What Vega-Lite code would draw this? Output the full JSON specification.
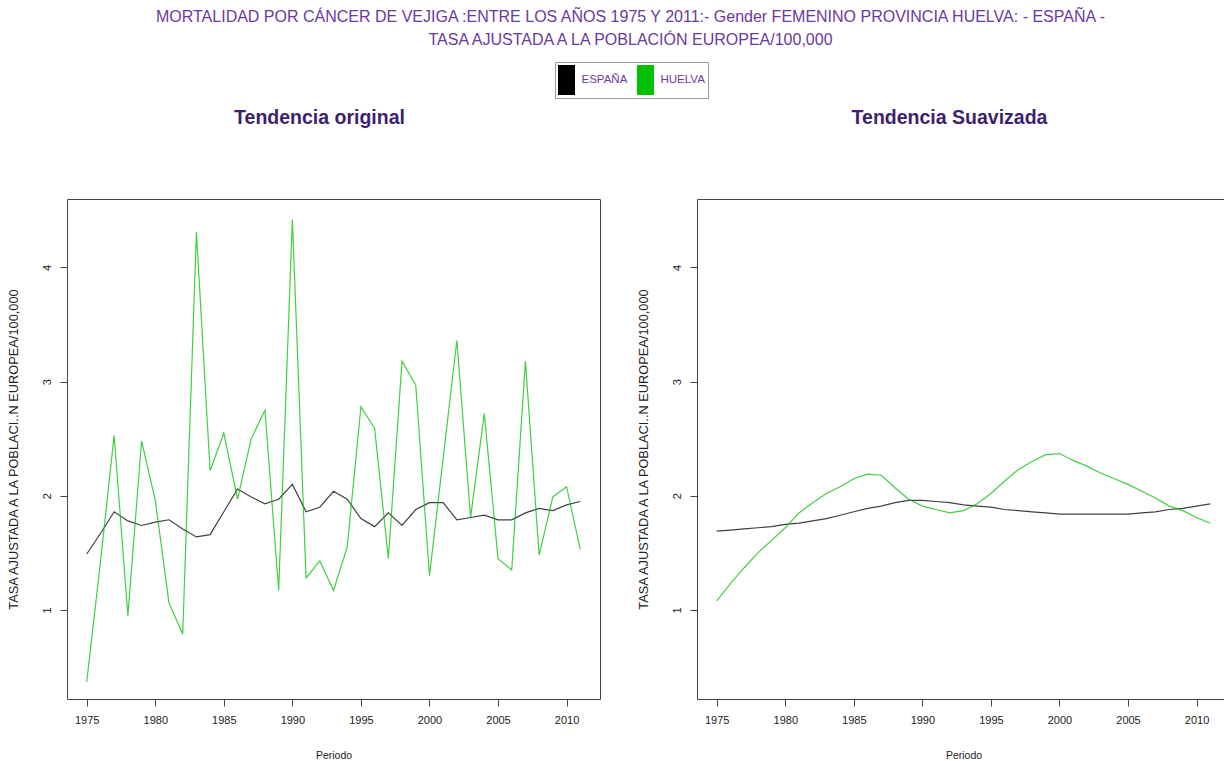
{
  "$schema": "https://vega.github.io/schema/vega-lite/v6.json",
  "background": "white",
  "padding": {"left": 6, "top": 8, "right": 0, "bottom": 0},
  "title": {
    "text": ["MORTALIDAD POR CÁNCER DE VEJIGA :ENTRE LOS AÑOS 1975 Y 2011:- Gender FEMENINO PROVINCIA HUELVA: - ESPAÑA -", "TASA AJUSTADA A LA POBLACIÓN EUROPEA/100,000"],
    "anchor": "middle",
    "font": "Liberation Sans",
    "fontSize": 16,
    "fontWeight": "normal",
    "color": "#6a3aa0",
    "lineHeight": 23,
    "offset": 14,
    "dx": 12
  },
  "bounds": "flush",
  "spacing": 97,
  "datasets": {
    "orig": [
      {"year": 1975, "value": 1.49, "series": "ESPAÑA"},
      {"year": 1976, "value": 1.67, "series": "ESPAÑA"},
      {"year": 1977, "value": 1.86, "series": "ESPAÑA"},
      {"year": 1978, "value": 1.78, "series": "ESPAÑA"},
      {"year": 1979, "value": 1.74, "series": "ESPAÑA"},
      {"year": 1980, "value": 1.77, "series": "ESPAÑA"},
      {"year": 1981, "value": 1.79, "series": "ESPAÑA"},
      {"year": 1982, "value": 1.71, "series": "ESPAÑA"},
      {"year": 1983, "value": 1.64, "series": "ESPAÑA"},
      {"year": 1984, "value": 1.66, "series": "ESPAÑA"},
      {"year": 1985, "value": 1.86, "series": "ESPAÑA"},
      {"year": 1986, "value": 2.06, "series": "ESPAÑA"},
      {"year": 1987, "value": 1.99, "series": "ESPAÑA"},
      {"year": 1988, "value": 1.93, "series": "ESPAÑA"},
      {"year": 1989, "value": 1.97, "series": "ESPAÑA"},
      {"year": 1990, "value": 2.10, "series": "ESPAÑA"},
      {"year": 1991, "value": 1.86, "series": "ESPAÑA"},
      {"year": 1992, "value": 1.90, "series": "ESPAÑA"},
      {"year": 1993, "value": 2.04, "series": "ESPAÑA"},
      {"year": 1994, "value": 1.97, "series": "ESPAÑA"},
      {"year": 1995, "value": 1.80, "series": "ESPAÑA"},
      {"year": 1996, "value": 1.73, "series": "ESPAÑA"},
      {"year": 1997, "value": 1.85, "series": "ESPAÑA"},
      {"year": 1998, "value": 1.74, "series": "ESPAÑA"},
      {"year": 1999, "value": 1.88, "series": "ESPAÑA"},
      {"year": 2000, "value": 1.94, "series": "ESPAÑA"},
      {"year": 2001, "value": 1.94, "series": "ESPAÑA"},
      {"year": 2002, "value": 1.79, "series": "ESPAÑA"},
      {"year": 2003, "value": 1.81, "series": "ESPAÑA"},
      {"year": 2004, "value": 1.83, "series": "ESPAÑA"},
      {"year": 2005, "value": 1.79, "series": "ESPAÑA"},
      {"year": 2006, "value": 1.79, "series": "ESPAÑA"},
      {"year": 2007, "value": 1.85, "series": "ESPAÑA"},
      {"year": 2008, "value": 1.89, "series": "ESPAÑA"},
      {"year": 2009, "value": 1.87, "series": "ESPAÑA"},
      {"year": 2010, "value": 1.92, "series": "ESPAÑA"},
      {"year": 2011, "value": 1.95, "series": "ESPAÑA"},
      {"year": 1975, "value": 0.37, "series": "HUELVA"},
      {"year": 1976, "value": 1.42, "series": "HUELVA"},
      {"year": 1977, "value": 2.53, "series": "HUELVA"},
      {"year": 1978, "value": 0.95, "series": "HUELVA"},
      {"year": 1979, "value": 2.48, "series": "HUELVA"},
      {"year": 1980, "value": 1.96, "series": "HUELVA"},
      {"year": 1981, "value": 1.06, "series": "HUELVA"},
      {"year": 1982, "value": 0.79, "series": "HUELVA"},
      {"year": 1983, "value": 4.31, "series": "HUELVA"},
      {"year": 1984, "value": 2.22, "series": "HUELVA"},
      {"year": 1985, "value": 2.55, "series": "HUELVA"},
      {"year": 1986, "value": 1.97, "series": "HUELVA"},
      {"year": 1987, "value": 2.50, "series": "HUELVA"},
      {"year": 1988, "value": 2.75, "series": "HUELVA"},
      {"year": 1989, "value": 1.17, "series": "HUELVA"},
      {"year": 1990, "value": 4.42, "series": "HUELVA"},
      {"year": 1991, "value": 1.28, "series": "HUELVA"},
      {"year": 1992, "value": 1.43, "series": "HUELVA"},
      {"year": 1993, "value": 1.17, "series": "HUELVA"},
      {"year": 1994, "value": 1.55, "series": "HUELVA"},
      {"year": 1995, "value": 2.78, "series": "HUELVA"},
      {"year": 1996, "value": 2.59, "series": "HUELVA"},
      {"year": 1997, "value": 1.45, "series": "HUELVA"},
      {"year": 1998, "value": 3.18, "series": "HUELVA"},
      {"year": 1999, "value": 2.97, "series": "HUELVA"},
      {"year": 2000, "value": 1.30, "series": "HUELVA"},
      {"year": 2001, "value": 2.33, "series": "HUELVA"},
      {"year": 2002, "value": 3.36, "series": "HUELVA"},
      {"year": 2003, "value": 1.81, "series": "HUELVA"},
      {"year": 2004, "value": 2.72, "series": "HUELVA"},
      {"year": 2005, "value": 1.45, "series": "HUELVA"},
      {"year": 2006, "value": 1.35, "series": "HUELVA"},
      {"year": 2007, "value": 3.18, "series": "HUELVA"},
      {"year": 2008, "value": 1.48, "series": "HUELVA"},
      {"year": 2009, "value": 1.99, "series": "HUELVA"},
      {"year": 2010, "value": 2.08, "series": "HUELVA"},
      {"year": 2011, "value": 1.53, "series": "HUELVA"}
    ],
    "suav": [
      {"year": 1975, "value": 1.69, "series": "ESPAÑA"},
      {"year": 1976, "value": 1.70, "series": "ESPAÑA"},
      {"year": 1977, "value": 1.71, "series": "ESPAÑA"},
      {"year": 1978, "value": 1.72, "series": "ESPAÑA"},
      {"year": 1979, "value": 1.73, "series": "ESPAÑA"},
      {"year": 1980, "value": 1.75, "series": "ESPAÑA"},
      {"year": 1981, "value": 1.76, "series": "ESPAÑA"},
      {"year": 1982, "value": 1.78, "series": "ESPAÑA"},
      {"year": 1983, "value": 1.80, "series": "ESPAÑA"},
      {"year": 1984, "value": 1.83, "series": "ESPAÑA"},
      {"year": 1985, "value": 1.86, "series": "ESPAÑA"},
      {"year": 1986, "value": 1.89, "series": "ESPAÑA"},
      {"year": 1987, "value": 1.91, "series": "ESPAÑA"},
      {"year": 1988, "value": 1.94, "series": "ESPAÑA"},
      {"year": 1989, "value": 1.96, "series": "ESPAÑA"},
      {"year": 1990, "value": 1.96, "series": "ESPAÑA"},
      {"year": 1991, "value": 1.95, "series": "ESPAÑA"},
      {"year": 1992, "value": 1.94, "series": "ESPAÑA"},
      {"year": 1993, "value": 1.92, "series": "ESPAÑA"},
      {"year": 1994, "value": 1.91, "series": "ESPAÑA"},
      {"year": 1995, "value": 1.90, "series": "ESPAÑA"},
      {"year": 1996, "value": 1.88, "series": "ESPAÑA"},
      {"year": 1997, "value": 1.87, "series": "ESPAÑA"},
      {"year": 1998, "value": 1.86, "series": "ESPAÑA"},
      {"year": 1999, "value": 1.85, "series": "ESPAÑA"},
      {"year": 2000, "value": 1.84, "series": "ESPAÑA"},
      {"year": 2001, "value": 1.84, "series": "ESPAÑA"},
      {"year": 2002, "value": 1.84, "series": "ESPAÑA"},
      {"year": 2003, "value": 1.84, "series": "ESPAÑA"},
      {"year": 2004, "value": 1.84, "series": "ESPAÑA"},
      {"year": 2005, "value": 1.84, "series": "ESPAÑA"},
      {"year": 2006, "value": 1.85, "series": "ESPAÑA"},
      {"year": 2007, "value": 1.86, "series": "ESPAÑA"},
      {"year": 2008, "value": 1.88, "series": "ESPAÑA"},
      {"year": 2009, "value": 1.89, "series": "ESPAÑA"},
      {"year": 2010, "value": 1.91, "series": "ESPAÑA"},
      {"year": 2011, "value": 1.93, "series": "ESPAÑA"},
      {"year": 1975, "value": 1.08, "series": "HUELVA"},
      {"year": 1976, "value": 1.23, "series": "HUELVA"},
      {"year": 1977, "value": 1.37, "series": "HUELVA"},
      {"year": 1978, "value": 1.50, "series": "HUELVA"},
      {"year": 1979, "value": 1.61, "series": "HUELVA"},
      {"year": 1980, "value": 1.72, "series": "HUELVA"},
      {"year": 1981, "value": 1.85, "series": "HUELVA"},
      {"year": 1982, "value": 1.94, "series": "HUELVA"},
      {"year": 1983, "value": 2.02, "series": "HUELVA"},
      {"year": 1984, "value": 2.08, "series": "HUELVA"},
      {"year": 1985, "value": 2.15, "series": "HUELVA"},
      {"year": 1986, "value": 2.19, "series": "HUELVA"},
      {"year": 1987, "value": 2.18, "series": "HUELVA"},
      {"year": 1988, "value": 2.07, "series": "HUELVA"},
      {"year": 1989, "value": 1.97, "series": "HUELVA"},
      {"year": 1990, "value": 1.91, "series": "HUELVA"},
      {"year": 1991, "value": 1.88, "series": "HUELVA"},
      {"year": 1992, "value": 1.85, "series": "HUELVA"},
      {"year": 1993, "value": 1.87, "series": "HUELVA"},
      {"year": 1994, "value": 1.93, "series": "HUELVA"},
      {"year": 1995, "value": 2.02, "series": "HUELVA"},
      {"year": 1996, "value": 2.13, "series": "HUELVA"},
      {"year": 1997, "value": 2.23, "series": "HUELVA"},
      {"year": 1998, "value": 2.30, "series": "HUELVA"},
      {"year": 1999, "value": 2.36, "series": "HUELVA"},
      {"year": 2000, "value": 2.37, "series": "HUELVA"},
      {"year": 2001, "value": 2.31, "series": "HUELVA"},
      {"year": 2002, "value": 2.26, "series": "HUELVA"},
      {"year": 2003, "value": 2.20, "series": "HUELVA"},
      {"year": 2004, "value": 2.15, "series": "HUELVA"},
      {"year": 2005, "value": 2.10, "series": "HUELVA"},
      {"year": 2006, "value": 2.04, "series": "HUELVA"},
      {"year": 2007, "value": 1.98, "series": "HUELVA"},
      {"year": 2008, "value": 1.91, "series": "HUELVA"},
      {"year": 2009, "value": 1.87, "series": "HUELVA"},
      {"year": 2010, "value": 1.81, "series": "HUELVA"},
      {"year": 2011, "value": 1.76, "series": "HUELVA"}
    ]
  },
  "hconcat": [
    {
      "width": 533,
      "height": 500,
      "title": {"text": "Tendencia original"},
      "data": {"name": "orig"},
      "mark": {"type": "line", "strokeWidth": 1.2, "opacity": 0.75},
      "encoding": {
        "x": {"field": "year", "type": "quantitative",
              "scale": {"domain": [1973.56, 2012.44], "nice": false, "zero": false},
              "axis": {"values": [1975, 1980, 1985, 1990, 1995, 2000, 2005, 2010], "format": "d", "title": "Periodo"}},
        "y": {"field": "value", "type": "quantitative",
              "scale": {"domain": [0.22, 4.6], "nice": false, "zero": false},
              "axis": {"values": [1, 2, 3, 4], "title": "TASA AJUSTADA A LA POBLACI..N EUROPEA/100,000"}},
        "color": {"field": "series", "type": "nominal",
                  "scale": {"domain": ["ESPAÑA", "HUELVA"], "range": ["#000000", "#00c000"]},
                  "legend": {"title": null, "orient": "none", "legendX": 488, "legendY": -137, "direction": "horizontal",
                             "encode": {"symbols": {"update": {"fill": {"scale": "color", "field": "value"}, "strokeWidth": {"value": 0}, "opacity": {"value": 1}}}}}}
      }
    },
    {
      "width": 533,
      "height": 500,
      "title": {"text": "Tendencia Suavizada"},
      "data": {"name": "suav"},
      "mark": {"type": "line", "strokeWidth": 1.2, "opacity": 0.75},
      "encoding": {
        "x": {"field": "year", "type": "quantitative",
              "scale": {"domain": [1973.56, 2012.44], "nice": false, "zero": false},
              "axis": {"values": [1975, 1980, 1985, 1990, 1995, 2000, 2005, 2010], "format": "d", "title": "Periodo"}},
        "y": {"field": "value", "type": "quantitative",
              "scale": {"domain": [0.22, 4.6], "nice": false, "zero": false},
              "axis": {"values": [1, 2, 3, 4], "title": "TASA AJUSTADA A LA POBLACI..N EUROPEA/100,000"}},
        "color": {"field": "series", "type": "nominal",
                  "scale": {"domain": ["ESPAÑA", "HUELVA"], "range": ["#000000", "#00c000"]}}
      }
    }
  ],
  "config": {
    "font": "Liberation Sans",
    "view": {"stroke": "#444444", "strokeWidth": 1},
    "title": {"font": "Liberation Sans", "fontSize": 19.5, "fontWeight": "bold", "color": "#3d1f6e", "anchor": "middle", "offset": 71, "dx": -14},
    "axis": {"domain": false, "ticks": true, "tickSize": 7, "tickColor": "#444444", "grid": false,
             "labelFont": "Liberation Sans", "labelFontSize": 11, "labelColor": "#222222",
             "titleFont": "Liberation Sans", "titleFontSize": 10.5, "titleFontWeight": "normal", "titleColor": "#222222"},
    "axisX": {"labelPadding": 8, "titlePadding": 25},
    "axisY": {"labelAngle": -90, "labelPadding": 8, "titlePadding": 21, "titleFontSize": 12.8},
    "legend": {"symbolType": "M-0.567,-1H0.567V1H-0.567Z", "symbolSize": 900, "symbolStrokeWidth": 0, "symbolOpacity": 1,
               "labelFont": "Liberation Sans", "labelFontSize": 11.5, "labelColor": "#6a3aa0",
               "strokeColor": "#999999", "fillColor": "white", "padding": 3, "columnPadding": 8, "labelOffset": 0, "symbolOffset": -6.5}
  }
}
